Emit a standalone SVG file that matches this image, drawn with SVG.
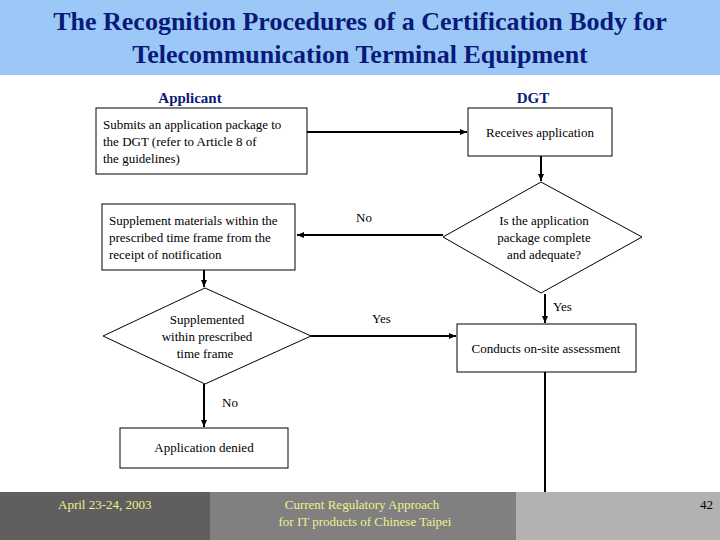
<svg xmlns="http://www.w3.org/2000/svg" width="720" height="540" viewBox="0 0 720 540">
<style>
text{font-family:"Liberation Serif","Times New Roman",serif;font-size:13px;fill:#000}
.t{font-size:26px;font-weight:bold;fill:#0a1a78;text-anchor:middle}
.h{font-size:15px;font-weight:bold;fill:#0a1a78;text-anchor:middle}
.c{text-anchor:middle}
.n{fill:#fff;stroke:#000;stroke-width:1}
.e line{stroke:#000;stroke-width:2}
.f{fill:#f0f08c;font-size:13px}
</style>
<defs><marker id="a" markerWidth="8" markerHeight="8" refX="7" refY="4" orient="auto" markerUnits="userSpaceOnUse"><path d="M0,1 L7,4 L0,7Z" fill="#000"/></marker></defs>
<rect width="720" height="540" fill="#fff"/>
<rect width="720" height="75" fill="#9cc8f8"/>
<text class="t" x="360" y="30">The Recognition Procedures of a Certification Body for</text>
<text class="t" x="360" y="63">Telecommunication Terminal Equipment</text>
<text class="h" x="190" y="103">Applicant</text>
<text class="h" x="533" y="103">DGT</text>
<g class="e">
<line x1="307" y1="132" x2="467" y2="132" marker-end="url(#a)"/>
<line x1="541" y1="156" x2="541" y2="181" marker-end="url(#a)"/>
<line x1="443" y1="235" x2="297" y2="235" marker-end="url(#a)"/>
<line x1="204" y1="270" x2="204" y2="287" marker-end="url(#a)"/>
<line x1="311" y1="336" x2="456" y2="336" marker-end="url(#a)"/>
<line x1="545" y1="294" x2="545" y2="323" marker-end="url(#a)"/>
<line x1="545" y1="372" x2="545" y2="492"/>
<line x1="204" y1="384" x2="204" y2="427" marker-end="url(#a)"/>
</g>
<text x="356" y="222">No</text>
<text x="372" y="323">Yes</text>
<text x="553" y="311">Yes</text>
<text x="222" y="407">No</text>
<g id="n1"><rect class="n" x="96" y="108" width="211" height="66"/>
<text x="103" y="129">Submits an application package to</text><text x="103" y="146">the DGT (refer to Article 8 of</text><text x="103" y="163">the guidelines)</text></g>
<g id="n2"><rect class="n" x="468" y="108" width="144" height="48"/><text class="c" x="540" y="137">Receives application</text></g>
<g id="n3"><polygon class="n" points="541,182 642,237 541,293 443,237"/>
<text class="c" x="544" y="225">Is the application</text><text class="c" x="544" y="242">package complete</text><text class="c" x="544" y="259">and adequate?</text></g>
<g id="n4"><rect class="n" x="102" y="204" width="193" height="66"/>
<text x="109" y="225">Supplement materials within the</text><text x="109" y="242">prescribed  time frame from the</text><text x="109" y="259">receipt  of notification</text></g>
<g id="n5"><polygon class="n" points="205,288 311,336 205,384 103,336"/>
<text class="c" x="207" y="324">Supplemented</text><text class="c" x="207" y="341">within prescribed</text><text class="c" x="205" y="358">time frame</text></g>
<g id="n6"><rect class="n" x="457" y="324" width="179" height="48"/><text class="c" x="546" y="353">Conducts on-site assessment</text></g>
<g id="n7"><rect class="n" x="120" y="428" width="168" height="40"/><text class="c" x="204" y="452">Application denied</text></g>
<rect x="0" y="492" width="210" height="48" fill="#5f5f5f"/>
<rect x="210" y="492" width="306" height="48" fill="#808080"/>
<rect x="516" y="492" width="204" height="48" fill="#b2b2b2"/>
<text class="f" x="58" y="509">April 23-24, 2003</text>
<text class="f c" x="362" y="509">Current Regulatory Approach</text>
<text class="f c" x="365" y="526">for IT products of Chinese Taipei</text>
<text x="713" y="509" text-anchor="end">42</text>
</svg>
